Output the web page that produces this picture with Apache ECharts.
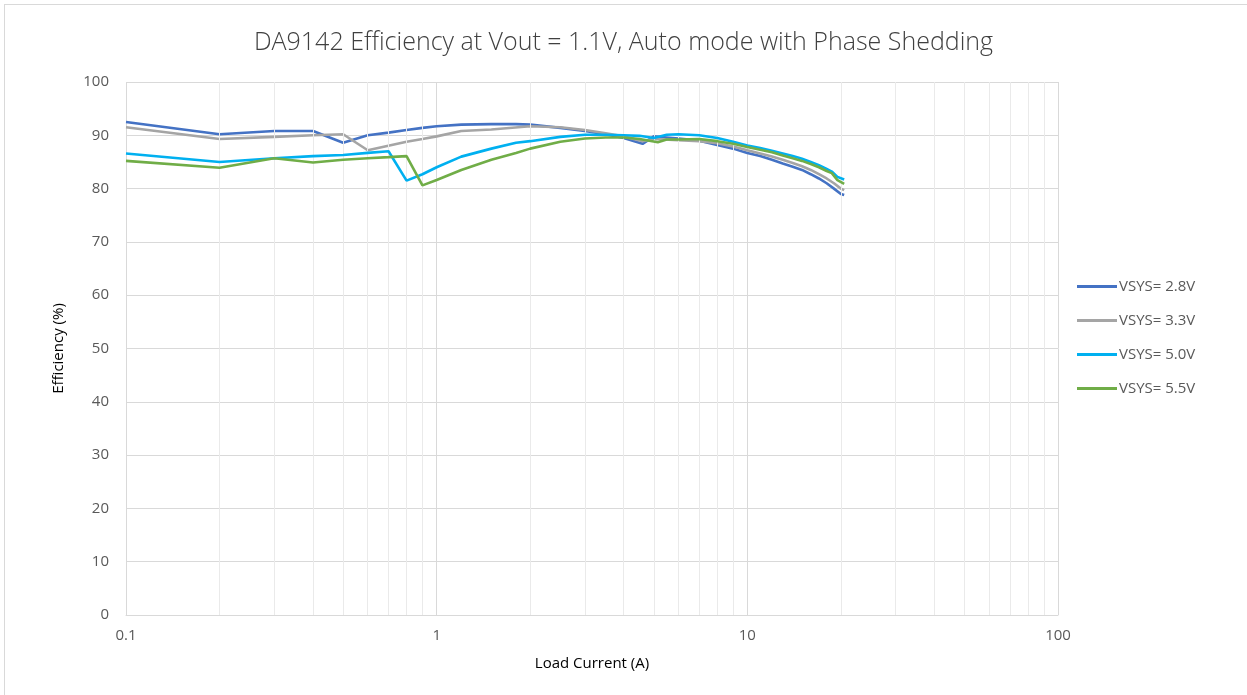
<!DOCTYPE html>
<html>
<head>
<meta charset="utf-8">
<script src="https://cdn.jsdelivr.net/npm/echarts@6/dist/echarts.min.js"></script>
<style>
html,body{margin:0;padding:0;background:#fff;}
#frame{position:absolute;left:4px;top:4px;width:1400px;height:900px;border:1px solid #D9D9D9;box-sizing:border-box;}
#main{position:absolute;left:0;top:0;width:1247px;height:695px;}
</style>
</head>
<body>
<div id="frame"></div>
<div id="main"></div>
<script>
// Load current (A) and efficiency (%) readings per series
const current28 = [0.1,0.2,0.3,0.4,0.5,0.6,0.7,0.8,0.9,1.0,1.2,1.5,1.8,2,2.5,3,3.5,4,4.6,5,5.5,6,7,8,9,10,11,12,13,14,15,16,17,18,19,20,20.5];
const eff28     = [92.5,90.2,90.8,90.8,88.6,90.0,90.5,91.0,91.4,91.7,92.0,92.1,92.1,92.0,91.4,90.8,90.2,89.5,88.4,89.8,89.6,89.4,89.0,88.2,87.5,86.7,86.1,85.4,84.7,84.1,83.5,82.7,81.9,81.0,80.0,79.0,78.8];

const current33 = [0.1,0.2,0.3,0.4,0.5,0.6,0.8,0.9,1.0,1.2,1.5,2,2.5,3,3.5,4,4.6,5,6,7,8,9,10,11,12,13,14,15,16,17,18,19,20,20.5];
const eff33     = [91.5,89.3,89.7,90.0,90.2,87.2,88.8,89.3,89.8,90.8,91.1,91.7,91.5,91.0,90.4,89.8,88.9,89.3,89.1,88.9,88.5,87.9,87.2,86.6,86.0,85.4,84.8,84.2,83.5,82.7,81.9,81.0,80.0,79.7];

const current50 = [0.1,0.2,0.3,0.4,0.5,0.6,0.7,0.8,0.9,1.0,1.2,1.5,1.8,2,2.5,3,3.5,4,4.5,5,5.5,6,7,8,9,10,11,12,13,14,15,16,17,18,18.7,19.5,20.5];
const eff50     = [86.6,85.0,85.7,86.1,86.3,86.7,87.0,81.5,82.7,84.0,86.0,87.5,88.6,88.9,89.7,90.1,90.1,90.0,89.9,89.5,90.1,90.2,90.0,89.5,88.8,88.1,87.6,87.1,86.6,86.1,85.6,85.0,84.4,83.7,83.2,82.2,81.7];

const current55 = [0.1,0.2,0.3,0.4,0.5,0.6,0.7,0.8,0.9,1.0,1.2,1.5,1.8,2,2.5,3,3.5,4,4.5,5.15,5.5,6,7,8,9,10,11,12,13,14,15,16,17,18,18.7,19.5,20.5];
const eff55     = [85.2,83.9,85.7,84.9,85.4,85.7,85.9,86.1,80.6,81.6,83.5,85.4,86.7,87.5,88.8,89.4,89.6,89.6,89.3,88.7,89.2,89.2,89.3,88.9,88.4,87.8,87.3,86.8,86.2,85.7,85.2,84.6,84.0,83.3,82.9,81.6,80.9];

const seriesNames = ['VSYS= 2.8V','VSYS= 3.3V','VSYS= 5.0V','VSYS= 5.5V'];
const xTickLabels = {'0.1':'0.1','1':'1','10':'10','100':'100'};
const minorGrid = [0.2,0.3,0.4,0.5,0.6,0.7,0.8,0.9,2,3,4,5,6,7,8,9,20,30,40,50,60,70,80,90];

const colors = ['#4472C4','#A5A5A5','#00B0F0','#70AD47'];
const zip = (xs, ys) => xs.map((x, i) => [x, ys[i]]);
const allData = [zip(current28, eff28), zip(current33, eff33), zip(current50, eff50), zip(current55, eff55)];

const chart = echarts.init(document.getElementById('main'));
const font = '"Open Sans", "Liberation Sans", sans-serif';

const series = [{
  name: 'minor',
  type: 'line',
  data: [],
  z: 0,
  silent: true,
  markLine: {
    silent: true,
    symbol: ['none','none'],
    label: {show: false},
    animation: false,
    lineStyle: {color: '#EAEAEA', type: 'solid', width: 1},
    data: minorGrid.map(v => ({xAxis: v}))
  }
}].concat(seriesNames.map((n, i) => ({
  name: n,
  type: 'line',
  data: allData[i],
  showSymbol: false,
  symbol: 'none',
  z: 3 + i,
  lineStyle: {color: colors[i], width: 2.6},
  itemStyle: {color: colors[i]}
})));

chart.setOption({
  animation: false,
  title: {
    text: 'DA9142 Efficiency at Vout = 1.1V, Auto mode with Phase Shedding',
    left: 'center',
    top: 25,
    textStyle: {fontFamily: font, fontWeight: 300, fontSize: 25, color: '#404040'}
  },
  legend: {
    data: seriesNames,
    orient: 'vertical',
    left: 1072,
    top: 274,
    itemWidth: 40,
    itemHeight: 3,
    itemGap: 19,
    icon: 'rect',
    textStyle: {fontFamily: font, fontSize: 15, color: '#595959', lineHeight: 14, padding: [0,0,0,-3]}
  },
  grid: {left: 126, right: 189, top: 82, bottom: 80, containLabel: false},
  xAxis: {
    type: 'log',
    logBase: 10,
    min: 0.1,
    max: 100,
    name: 'Load Current (A)',
    nameLocation: 'middle',
    nameGap: 41,
    nameTextStyle: {fontFamily: font, fontSize: 15, color: '#000'},
    axisLine: {show: true, lineStyle: {color: '#D9D9D9', width: 1}},
    axisTick: {show: false},
    axisLabel: {
      fontFamily: font, fontSize: 15, color: '#595959', margin: 13,
      formatter: v => { const k = String(+(+v).toPrecision(3)); return xTickLabels[k] !== undefined ? xTickLabels[k] : k; }
    },
    splitLine: {show: true, lineStyle: {color: '#D9D9D9', width: 1}}
  },
  yAxis: {
    type: 'value',
    min: 0,
    max: 100,
    interval: 10,
    name: 'Efficiency (%)',
    nameLocation: 'middle',
    nameGap: 60,
    nameRotate: 90,
    nameTextStyle: {fontFamily: font, fontSize: 15, color: '#000'},
    axisLine: {show: false},
    axisTick: {show: false},
    axisLabel: {fontFamily: font, fontSize: 15, color: '#595959', margin: 17},
    splitLine: {show: true, lineStyle: {color: '#D9D9D9', width: 1}}
  },
  series: series
});
</script>
</body>
</html>
